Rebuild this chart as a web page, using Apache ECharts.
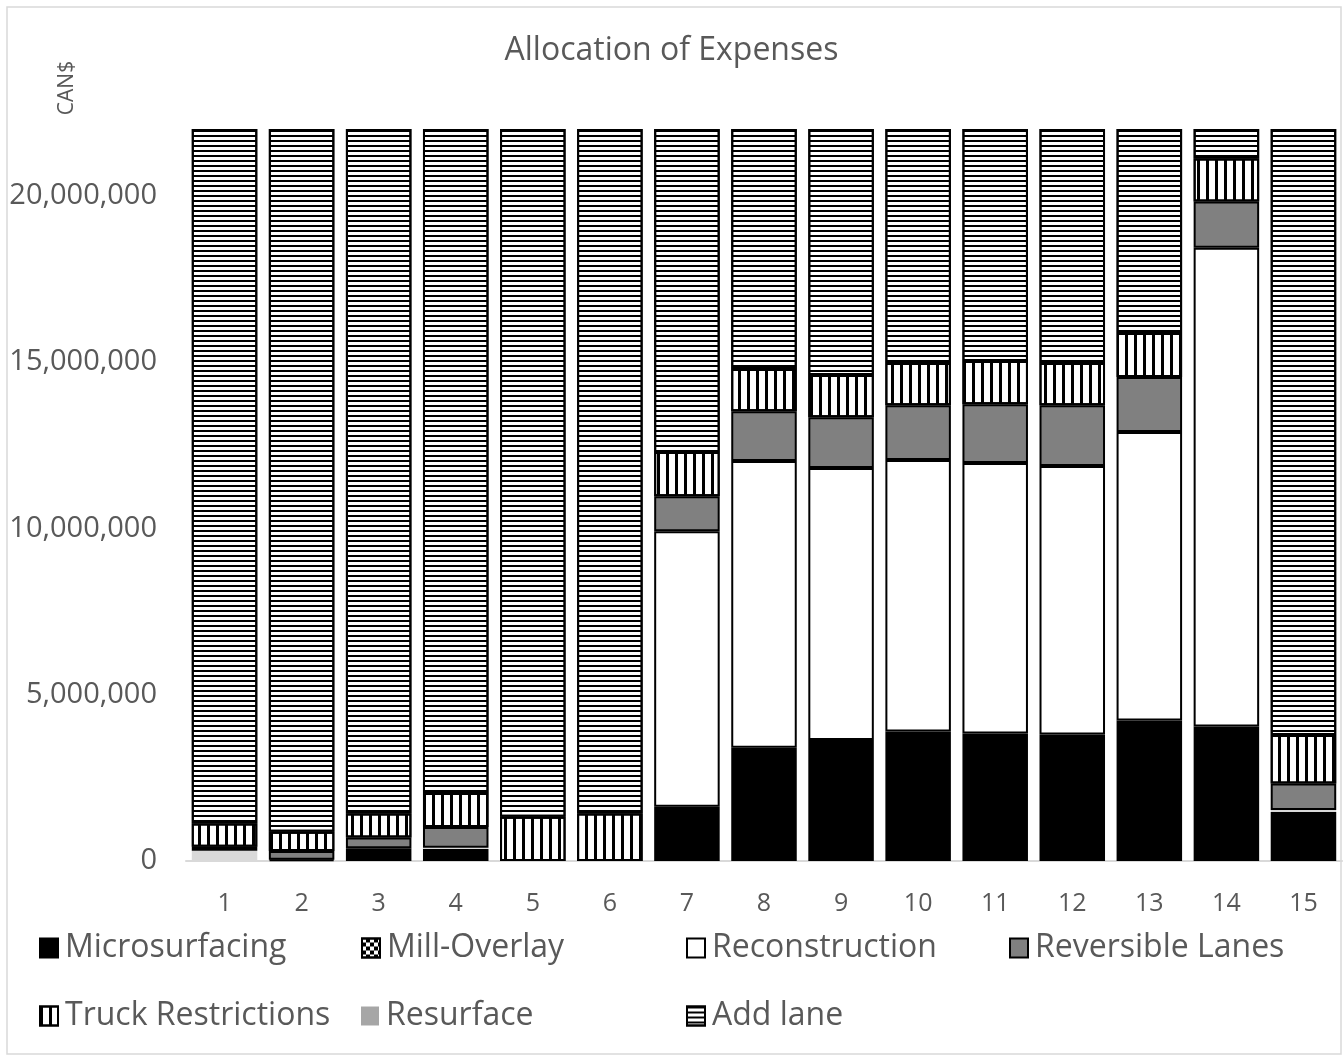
<!DOCTYPE html>
<html>
<head>
<meta charset="utf-8">
<script src="https://cdn.jsdelivr.net/npm/echarts@6/dist/echarts.min.js"></script>
<style>
  html, body { margin: 0; padding: 0; background: #ffffff; }
  #chart { width: 1343px; height: 1061px; }
</style>
</head>
<body>
<div id="chart"></div>
<script>
// Alternatives 1..15, stacked cost components (CAN$)
const categories = ['1','2','3','4','5','6','7','8','9','10','11','12','13','14','15'];

const microsurfacing = [null, 40000, 380000, 360000, null, null, 1630000, 3400000, 3640000, 3890000, 3830000, 3800000, 4220000, 4040000, 1470000];
const resurface      = [310000, null, null, 40000, null, null, null, null, null, null, null, null, null, null, 60000];
const millOverlay    = [null, null, null, null, null, null, null, null, null, null, null, null, null, null, null];
const reconstruction = [null, null, null, null, null, null, 8280000, 8620000, 8170000, 8160000, 8130000, 8070000, 8670000, 14390000, null];
const reversible     = [120000, 260000, 330000, 620000, null, null, 1050000, 1500000, 1530000, 1650000, 1770000, 1830000, 1660000, 1390000, 800000];
const truck          = [700000, 580000, 720000, 1020000, 1330000, 1430000, 1330000, 1270000, 1270000, 1270000, 1300000, 1270000, 1320000, 1290000, 1460000];
const addLane        = [20870000, 21120000, 20570000, 19960000, 20670000, 20570000, 9710000, 7210000, 7390000, 7030000, 6970000, 7030000, 6130000, 890000, 18210000];

const yTicks = [0, 5000000, 10000000, 15000000, 20000000];

const textColor = '#595959';
const fontFamily = '"Open Sans", "Noto Sans", sans-serif';

const stripesH = { symbol: 'rect', symbolSize: 1, color: '#000000', dashArrayX: [1, 0], dashArrayY: [2, 2.4], rotation: 0 };
const stripesV = { symbol: 'rect', symbolSize: 1, color: '#000000', dashArrayX: [2.2, 5.6], dashArrayY: [1, 0], rotation: 0 };
const checker  = { symbol: 'rect', symbolSize: 1, color: '#000000', dashArrayX: [[4, 4], [0, 4, 4, 0]], dashArrayY: [4, 0], rotation: 0 };

function barSeries(name, data, itemStyle) {
  return {
    name: name,
    type: 'bar',
    stack: 'cost',
    data: data,
    barCategoryGap: '15%',
    itemStyle: Object.assign({ borderColor: '#000000', borderWidth: 2 }, itemStyle),
    emphasis: { disabled: true }
  };
}

const series = [
  barSeries('Microsurfacing', microsurfacing, { color: '#000000' }),
  barSeries('Resurface', resurface, { color: '#d9d9d9', borderWidth: 0 }),
  barSeries('Mill-Overlay', millOverlay, { color: '#ffffff', decal: checker }),
  barSeries('Reconstruction', reconstruction, { color: '#ffffff' }),
  barSeries('Reversible Lanes', reversible, { color: '#808080' }),
  barSeries('Truck Restrictions', truck, { color: '#ffffff', decal: stripesV }),
  barSeries('Add lane', addLane, { color: '#ffffff', decal: stripesH })
];

// legend laid out as a fixed grid of four columns
const legendSlots = [
  { name: 'Microsurfacing', left: 34, top: 927 },
  { name: 'Mill-Overlay', left: 356, top: 927 },
  { name: 'Reconstruction', left: 681, top: 927 },
  { name: 'Reversible Lanes', left: 1004, top: 927 },
  { name: 'Truck Restrictions', left: 34, top: 995 },
  { name: 'Resurface', left: 356, top: 995, itemStyle: { color: '#a6a6a6', borderWidth: 0 } },
  { name: 'Add lane', left: 681, top: 995 }
];

const legends = legendSlots.map(s => ({
  data: [s.itemStyle ? { name: s.name, itemStyle: s.itemStyle } : s.name],
  left: s.left,
  top: s.top,
  orient: 'horizontal',
  icon: 'rect',
  itemWidth: 18,
  itemHeight: 19,
  itemGap: 0,
  selectedMode: false,
  textStyle: { color: textColor, fontSize: 32, fontFamily: fontFamily, padding: [0, 0, 0, 2] }
}));

const chart = echarts.init(document.getElementById('chart'), null, { renderer: 'canvas' });
chart.setOption({
  backgroundColor: '#ffffff',
  animation: false,
  title: {
    text: 'Allocation of Expenses',
    left: 'center',
    top: 30,
    textStyle: { color: textColor, fontSize: 32, fontWeight: 'normal', fontFamily: fontFamily }
  },
  legend: legends,
  grid: { left: 186, right: 1, top: 129, bottom: 200, containLabel: false },
  xAxis: {
    type: 'category',
    data: categories,
    axisLine: { lineStyle: { color: '#d9d9d9', width: 2 } },
    axisTick: { show: false },
    axisLabel: { color: textColor, fontSize: 25, fontFamily: fontFamily, margin: 30 }
  },
  yAxis: {
    type: 'value',
    min: 0,
    max: 22000000,
    interval: 5000000,
    axisLine: { show: false },
    axisTick: { show: false },
    splitLine: { show: false },
    axisLabel: {
      color: textColor,
      fontSize: 29,
      fontFamily: fontFamily,
      margin: 29,
      showMaxLabel: false,
      formatter: v => yTicks.includes(v) ? v.toLocaleString('en-US') : ''
    }
  },
  graphic: [
    {
      type: 'rect',
      shape: { x: 7, y: 7, width: 1334, height: 1047 },
      style: { fill: 'none', stroke: '#d9d9d9', lineWidth: 1.5 },
      silent: true,
      z: -1
    },
    {
      type: 'text',
      x: 67,
      y: 88,
      rotation: Math.PI / 2,
      style: { text: 'CAN$', fill: textColor, fontSize: 21, fontFamily: fontFamily, align: 'center', verticalAlign: 'middle' },
      silent: true
    }
  ],
  series: series
});
</script>
</body>
</html>
